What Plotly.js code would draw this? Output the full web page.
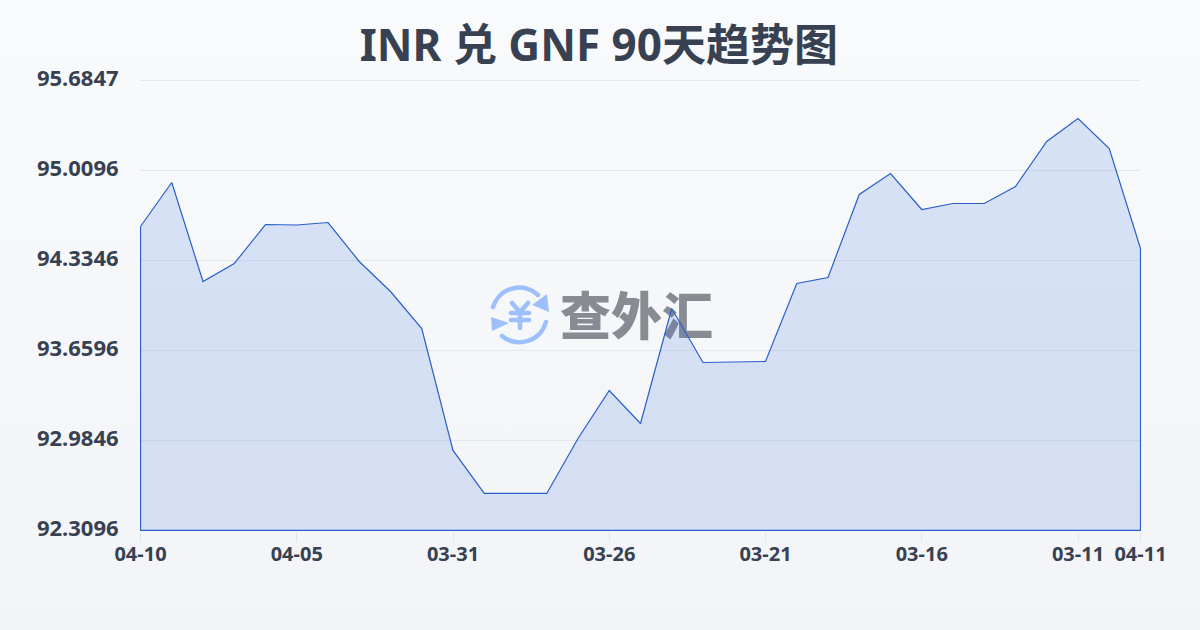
<!DOCTYPE html>
<html><head><meta charset="utf-8">
<script src="https://cdn.plot.ly/plotly-3.0.1.min.js"></script>
<style>
html,body{margin:0;padding:0;width:1200px;height:630px;overflow:hidden;background:linear-gradient(180deg,#f9fafc 0%,#f3f4f7 100%);}
#wm{position:absolute;left:488px;top:280px;width:240px;height:66px;}
#wm svg{position:absolute;left:0;top:5px;}
#wm span{position:absolute;left:72px;top:0;font:900 51px/66px "Noto Sans CJK SC","Noto Sans",sans-serif;color:#888b92;white-space:nowrap;}
#chart{position:absolute;left:0;top:0;width:1200px;height:630px;}
</style></head><body>
<div id="wm">
<svg width="64" height="62" viewBox="0 0 64 62" fill="none" stroke="#9dbffa" stroke-linecap="round">
<path d="M5 22 A27.5 27.5 0 0 1 50 10" stroke-width="4.5"/>
<path d="M58 37 A27.5 27.5 0 0 1 14 51" stroke-width="4.5"/>
<path d="M59 9 L61 27 L44 20 Z" fill="#9dbffa" stroke="none"/>
<path d="M3 32 L4 46 L21 38 Z" fill="#9dbffa" stroke="none"/>
<path d="M24 18 L32 27 L40 18 M23 28 H41 M23 35 H41 M32 27 V43" stroke-width="4.6"/>
</svg>
<span>查外汇</span>
</div>
<div id="chart"></div>
<script>
const categories=["04-10","04-09","04-08","04-07","04-06","04-05","04-04","04-03","04-02","04-01","03-31","03-30","03-29","03-28","03-27","03-26","03-25","03-24","03-23","03-22","03-21","03-20","03-19","03-18","03-17","03-16","03-15","03-14","03-13","03-12","03-11","03-10","04-11"];
const rates=[94.5897,94.9197,94.1772,94.3122,94.6047,94.6010,94.6197,94.3272,94.1022,93.8247,92.9097,92.5872,92.5872,92.5872,92.9997,93.3597,93.1122,93.9747,93.5697,93.5735,93.5772,94.1622,94.2072,94.8297,94.9872,94.7172,94.7622,94.7622,94.8897,95.2272,95.3997,95.1747,94.4247];
const yTicks=[92.3096,92.9846,93.6596,94.3346,95.0096,95.6847];
const xTicks=["04-10","04-05","03-31","03-26","03-21","03-16","03-11","04-11"];
const yMin=92.3096,yMax=95.6847;
const first=categories[0],last=categories[categories.length-1];
const ink="#374151";
const fam='"Noto Sans","Noto Sans CJK SC",sans-serif';
Plotly.newPlot("chart",[{
  type:"scatter",mode:"lines",cliponaxis:false,
  x:[...categories,last,first,first],
  y:[...rates,yMin,yMin,rates[0]],
  fill:"toself",
  fillcolor:"rgba(60,110,220,0.17)",
  line:{color:"#2a5fc9",width:1.2,shape:"linear"},
  hoverinfo:"skip"
}],{
  width:1200,height:630,
  paper_bgcolor:"rgba(0,0,0,0)",plot_bgcolor:"rgba(0,0,0,0)",
  showlegend:false,
  margin:{l:140,r:59,t:80.2,b:99.3,pad:0},
  title:{text:"INR 兑 GNF 90天趋势图",font:{family:fam,size:44,color:ink,weight:700},x:0.499,xanchor:"center",y:0.928,yanchor:"middle"},
  shapes:[{type:"line",xref:"paper",x0:0,x1:1,yref:"y",y0:yMax,y1:yMax,layer:"below",line:{color:"#e4e7ec",width:1}}],
  xaxis:{type:"category",categoryorder:"array",categoryarray:categories,range:[-0.016,32.016],
    tickmode:"array",tickvals:xTicks,ticktext:xTicks,
    tickfont:{family:fam,size:20,color:ink,weight:700},
    ticks:"outside",ticklen:10,tickcolor:"#e2e5ea",tickwidth:1,ticklabelstandoff:-5,
    showgrid:false,zeroline:false,showline:false,automargin:false},
  yaxis:{range:[yMin-0.004,yMax+0.004],tickmode:"array",tickvals:yTicks,ticktext:yTicks.map(v=>v.toFixed(4)),
    tickfont:{family:fam,size:22,color:ink,weight:700},
    ticks:"outside",ticklen:16,tickcolor:"rgba(0,0,0,0)",ticklabelshift:-2,
    showgrid:true,gridcolor:"#e4e7ec",gridwidth:1,zeroline:false,showline:false,automargin:false}
},{displayModeBar:false,staticPlot:true});
</script>
</body></html>
